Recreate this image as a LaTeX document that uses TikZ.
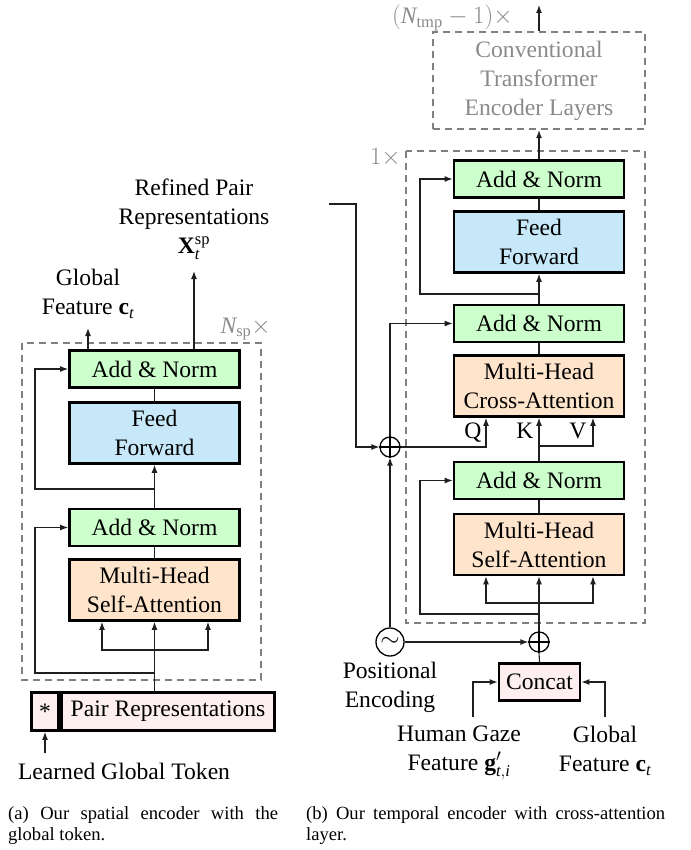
\documentclass[tikz,border=0pt]{standalone}
\usepackage{fontspec}
\setmainfont{Liberation Serif}
\usetikzlibrary{arrows.meta}
\definecolor{gbox}{HTML}{CCFFCC}
\definecolor{bbox}{HTML}{C6E8F8}
\definecolor{obox}{HTML}{FFE4CC}
\definecolor{pbox}{HTML}{FDEFEF}
\definecolor{dgray}{HTML}{808080}
\definecolor{tgray}{HTML}{8A8A8A}
\begin{document}
\begin{tikzpicture}[x=1pt,y=-1pt,
  txt/.style={font=\fontsize{23.6}{29}\selectfont, inner sep=0pt, align=center},
  blk/.style={txt, draw=black, line width=2.8pt, minimum width=170pt},
  anbox/.style={blk, fill=gbox, minimum height=37pt},
  ffbox/.style={blk, fill=bbox, minimum height=61pt},
  atbox/.style={blk, fill=obox, minimum height=61pt},
  dbox/.style={draw=dgray, line width=2.4pt, dash pattern=on 7pt off 5pt},
  gtxt/.style={txt, text=tgray},
  cn/.style={line width=1.1pt, draw=black!88},
  arr/.style={cn, -{Latex[length=8pt,width=6pt]}},
  oplus/.style={circle, draw=black, line width=1.3pt, minimum size=20pt, inner sep=0pt},
  capt/.style={inner sep=0pt, font=\fontsize{18.6}{21.5}\selectfont}
]
\useasboundingbox (0,0) rectangle (690,850);

%%%%%%%%%%%%%%%% (a) spatial encoder
\draw[dbox] (22,343) rectangle (261,680);
\node[gtxt, anchor=base east] (nsp) at (271,333) {$\mathit{N}_{\mathrm{sp}}\times$};

\node[anbox] (LAN1) at (154.5,369) {Add \& Norm};
\node[ffbox] (LFF) at (154.5,433) {Feed\\Forward};
\node[anbox] (LAN2) at (154.5,527.5) {Add \& Norm};
\node[atbox] (LSA) at (154.5,590) {Multi-Head\\Self-Attention};
\node[blk, fill=pbox, minimum width=27pt, minimum height=38pt] (star) at (45,711.5) {*};
\node[blk, fill=pbox, minimum width=213pt, minimum height=38pt] (pair) at (168,711.5) {Pair Representations};

\node[txt, anchor=north] (gf) at (88,268.7) {Global\\Feature $\mathbf{c}_{\mathit{t}}$};
\node[txt, anchor=north] (rp) at (194,178.7) {Refined Pair\\Representations\\$\mathbf{X}_{\mathit{t}}^{\mathrm{sp}}$};
\node[txt, anchor=base] (lgt) at (124,779) {Learned Global Token};

\coordinate (gfout) at (88,328);
\coordinate (rpout) at (194,271);
\draw[arr] (LAN1.north -| gfout) -- (gfout);
\draw[arr] (LAN1.north -| rpout) -- (rpout);

\draw[cn] (LAN1.south) -- (LFF.north);
\draw[arr] (LAN2.north) -- (LFF.south);
\coordinate (ls1) at (154.5,489);
\draw[arr] (ls1) -- (35,489) |- (LAN1.west);
\draw[cn] (LSA.north) -- (LAN2.south);
\draw[arr] (pair.north -| LSA) -- (LSA.south);
\coordinate (lsplit) at (154.5,650);
\draw[arr] (lsplit) -| ([xshift=-52.5pt]LSA.south);
\draw[arr] (lsplit) -| ([xshift=53.5pt]LSA.south);
\coordinate (ls2) at (154.5,673);
\draw[arr] (ls2) -- (35,673) |- (LAN2.west);
\coordinate (lgtin) at (45,753);
\draw[arr] (lgtin) -- (star.south);

%%%%%%%%%%%%%%%% (b) temporal encoder
\node[dbox, minimum width=212pt, minimum height=97pt, inner sep=0pt] (conv) at (539,80.5) {};
\node[gtxt, anchor=north] (convt) at (539,40.7) {Conventional\\Transformer\\Encoder Layers};
\node[gtxt, anchor=base east] (ntmp) at (513,24) {$(\mathit{N}_{\mathrm{tmp}}-1)\times$};
\coordinate (convout) at (539,5);
\draw[arr] (conv.north) -- (convout);

\draw[dbox] (406,151) rectangle (645,623);
\node[gtxt, anchor=base east] (one) at (401,165) {$1\times$};

\node[anbox] (RAN1) at (539,179) {Add \& Norm};
\node[ffbox] (RFF) at (539,242) {Feed\\Forward};
\node[anbox] (RAN2) at (539,323.5) {Add \& Norm};
\node[atbox] (RCA) at (539,386) {Multi-Head\\Cross-Attention};
\node[anbox] (RAN3) at (539,480.5) {Add \& Norm};
\node[atbox] (RSA) at (539,544.5) {Multi-Head\\Self-Attention};
\node[blk, fill=pbox, minimum width=81pt, minimum height=37pt] (concat) at (539.5,682) {Concat};

\node[oplus] (plus1) at (390,447) {};
\draw[line width=1.1pt] (plus1.north) -- (plus1.south) (plus1.west) -- (plus1.east);
\node[oplus] (plus2) at (539,642) {};
\draw[line width=1.1pt] (plus2.north) -- (plus2.south) (plus2.west) -- (plus2.east);
\node[circle, draw=black, line width=1.3pt, minimum size=28pt, inner sep=0pt, font=\fontsize{23.6}{29}\selectfont] (pe) at (390,642) {$\sim$};

\node[txt, anchor=north] (pet) at (390,661.7) {Positional\\Encoding};
\node[txt, anchor=north] (hg) at (459,725.7) {Human Gaze\\Feature $\mathbf{g}'_{\mathit{t},\mathit{i}}$};
\node[txt, anchor=north] (gf2) at (605,725.7) {Global\\Feature $\mathbf{c}_{\mathit{t}}$};

\node[txt, anchor=base] (ql) at (473,438) {Q};
\node[txt, anchor=base] (kl) at (525,438) {K};
\node[txt, anchor=base] (vl) at (578,438) {V};

\draw[arr] (RAN1.north) -- (conv.south);
\draw[cn] (RAN1.south) -- (RFF.north);
\draw[arr] (RAN2.north) -- (RFF.south);
\coordinate (rs1) at (539,294);
\draw[arr] (rs1) -- (420,294) |- (RAN1.west);
\draw[cn] (RCA.north) -- (RAN2.south);
\draw[arr] (plus1.north) |- (RAN2.west);
\draw[arr] (plus1.east) -| ([xshift=-53pt]RCA.south);
\draw[arr] (RAN3.north) -- (RCA.south);
\coordinate (vsplit) at (539,446);
\draw[arr] (vsplit) -| ([xshift=54pt]RCA.south);
\draw[cn] (RSA.north) -- (RAN3.south);
\draw[arr] (plus2.north) -- (RSA.south);
\coordinate (rsplit) at (539,603);
\draw[arr] (rsplit) -| ([xshift=-53pt]RSA.south);
\draw[arr] (rsplit) -| ([xshift=54pt]RSA.south);
\coordinate (rs3) at (539,614);
\draw[arr] (rs3) -- (420,614) |- (RAN3.west);
\draw[arr] (pe.east) -- (plus2.west);
\draw[arr] (pe.north) -- (plus1.south);
\draw[cn] (concat.north) -- (plus2.south);
\coordinate (rpin) at (329,204);
\draw[arr] (rpin) -- (356,204) |- (plus1.west);
\coordinate (hgin) at (473,717);
\draw[arr] (hgin) |- (concat.west);
\coordinate (gfin) at (605,717);
\draw[arr] (gfin) |- (concat.east);

%%%%%%%%%%%%%%%% captions
\node[capt, anchor=base west] (capa) at (8,819) {\parbox[t]{270pt}{(a) Our spatial encoder with the global token.}};
\node[capt, anchor=base west] (capb) at (306,819) {\parbox[t]{359pt}{(b) Our temporal encoder with cross-attention layer.}};
\end{tikzpicture}
\end{document}
